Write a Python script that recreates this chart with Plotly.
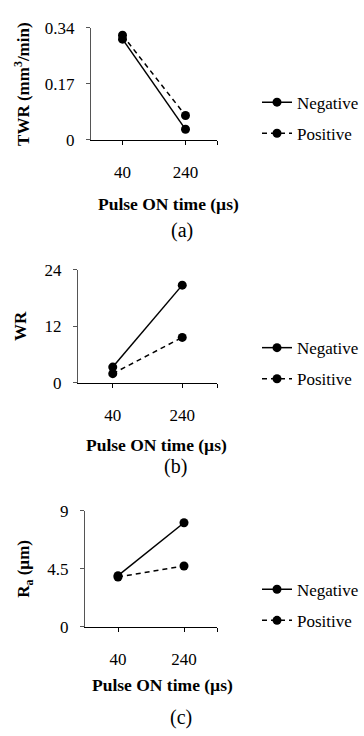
import plotly.graph_objects as go

# ---- data ----
pulse_on = ["40", "240"]
twr_negative = [0.306, 0.032]
twr_positive = [0.318, 0.074]
wr_negative = [3.3, 20.7]
wr_positive = [1.9, 9.6]
ra_negative = [3.97, 8.07]
ra_positive = [3.87, 4.72]

twr_ticks = [0, 0.17, 0.34]
wr_ticks = [0, 12, 24]
ra_ticks = [0, 4.5, 9]

W, H = 364, 736
FONT = "Liberation Serif"

def px_x(v):
    return v / W

def px_y(v):
    return 1 - v / H

# panel geometry in pixels (left, right, top, bottom)
panels = [
    dict(l=91, r=217, t=19.5, b=134.3),
    dict(l=78, r=217, t=267.5, b=383.5),
    dict(l=85, r=217, t=515, b=634.3),
]

series = [
    (twr_negative, twr_positive, twr_ticks, ["0", "0.17", "0.34"]),
    (wr_negative, wr_positive, wr_ticks, ["0", "12", "24"]),
    (ra_negative, ra_positive, ra_ticks, ["0", "4.5", "9"]),
]

ytitles = ["TWR (mm<sup>3</sup>/min)", "WR", "R<sub>a</sub> (µm)"]
ytitle_x = [22, 20, 25]
captions = ["(a)", "(b)", "(c)"]
caption_y = [227, 470, 727]
caption_x = [182, 175, 181]
xtitle_y = [200, 448, 694]
xtitle_x = [168, 156, 162]
legend_y = [112, 364, 612]

fig = go.Figure()
xpos = list(range(len(pulse_on)))

for i, (neg, pos, yt, ytt) in enumerate(series):
    sfx = "" if i == 0 else str(i + 1)
    xa = "x" + sfx
    ya = "y" + sfx
    lg = "legend" + sfx
    fig.add_trace(go.Scatter(
        x=xpos, y=neg, mode="lines+markers", name="Negative",
        xaxis=xa, yaxis=ya, legend=lg, legendgroup="n" + str(i),
        line=dict(color="black", width=1.5),
        marker=dict(color="black", size=9), cliponaxis=False))
    fig.add_trace(go.Scatter(
        x=xpos, y=pos, mode="lines+markers", name="Positive",
        xaxis=xa, yaxis=ya, legend=lg, legendgroup="p" + str(i),
        line=dict(color="black", width=1.5, dash="5px,4px"),
        marker=dict(color="black", size=9), cliponaxis=False))

    p = panels[i]
    fig.layout["xaxis" + sfx] = dict(
        domain=[px_x(p["l"]), px_x(p["r"])], anchor=ya,
        range=[-0.5, 1.5], tickvals=xpos, ticktext=pulse_on,
        ticks="outside", ticklen=4, tickcolor="black", showline=True,
        minor=dict(tickvals=[1.5], ticks="outside", ticklen=4,
                   tickcolor="black", showgrid=False),
        linecolor="black", linewidth=1, showgrid=False, zeroline=False,
        tickfont=dict(family=FONT, size=17, color="black"),
        ticklabelstandoff=13, fixedrange=True)
    fig.layout["yaxis" + sfx] = dict(
        domain=[px_y(p["b"]), px_y(p["t"])], anchor=xa,
        range=[yt[0], yt[-1]], tickvals=yt, ticktext=ytt,
        ticks="outside", ticklen=4, tickcolor="#555", showline=True,
        linecolor="#555", linewidth=1, showgrid=False, zeroline=False,
        tickfont=dict(family=FONT, size=17, color="black"),
        ticklabelstandoff=8, fixedrange=True)

    fig.layout[lg] = dict(
        x=px_x(257), y=px_y(legend_y[i]), xanchor="left", yanchor="middle",
        font=dict(family=FONT, size=17, color="black"),
        bgcolor="rgba(0,0,0,0)", tracegroupgap=6, itemclick=False,
        itemdoubleclick=False)

    fig.add_annotation(
        text="<b>" + ytitles[i] + "</b>", textangle=-90,
        x=px_x(ytitle_x[i]), y=(px_y(p["b"]) + px_y(p["t"])) / 2,
        xref="paper", yref="paper", xanchor="center", yanchor="middle",
        showarrow=False, font=dict(family=FONT, size=17, color="black"))
    fig.add_annotation(
        text="<b>Pulse ON time (µs)</b>",
        x=px_x(xtitle_x[i]), y=px_y(xtitle_y[i]),
        xref="paper", yref="paper", xanchor="center", yanchor="middle",
        showarrow=False, font=dict(family=FONT, size=17.5, color="black"))
    fig.add_annotation(
        text=captions[i], x=px_x(caption_x[i]), y=px_y(caption_y[i]),
        xref="paper", yref="paper", xanchor="center", yanchor="middle",
        showarrow=False, font=dict(family=FONT, size=20, color="black"))

fig.update_layout(
    width=W, height=H, margin=dict(l=0, r=0, t=0, b=0),
    paper_bgcolor="white", plot_bgcolor="white", showlegend=True)

fig.write_html("out.html", config={"displayModeBar": False},
               post_script="document.body.style.margin='0';document.body.style.overflow='hidden';")
